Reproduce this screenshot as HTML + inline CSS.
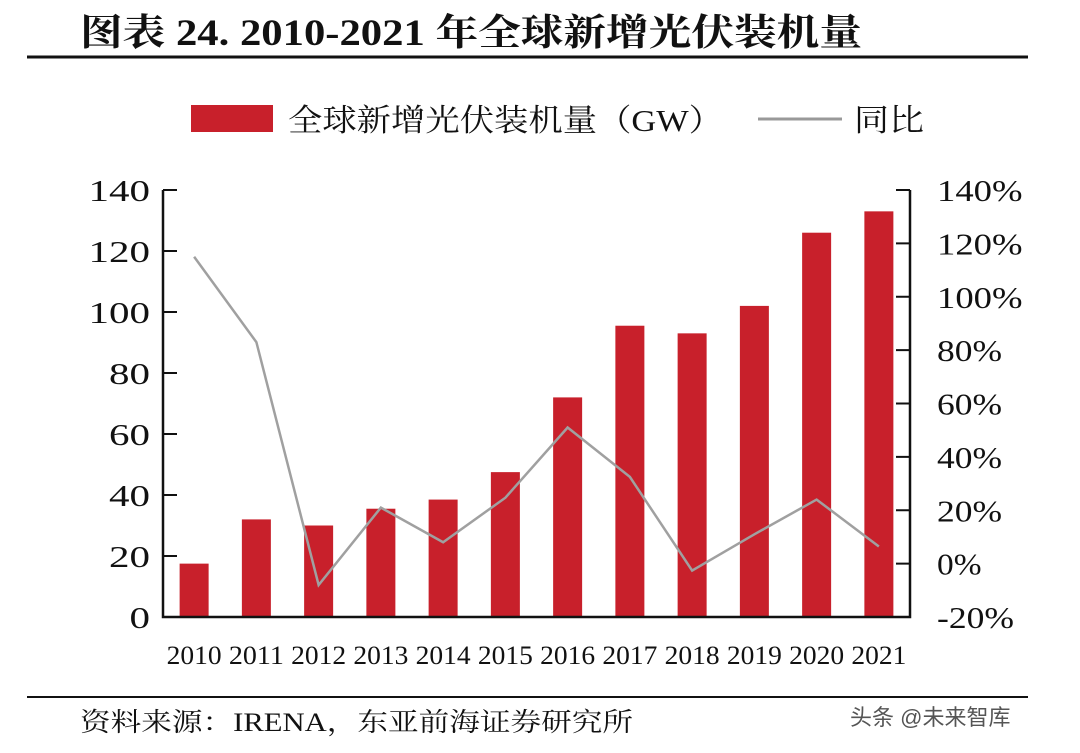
<!DOCTYPE html>
<html><head><meta charset="utf-8"><style>
body{margin:0;background:#fff;}
svg text{font-family:"Liberation Serif","Noto Serif CJK SC",serif;fill:#111;}
</style></head><body>
<svg id="c" width="1080" height="748" xmlns="http://www.w3.org/2000/svg">
<text x="80" y="45" font-size="37" font-weight="bold" textLength="782" lengthAdjust="spacingAndGlyphs">图表 24. 2010-2021 年全球新增光伏装机量</text>
<line x1="27" y1="57" x2="1028" y2="57" stroke="#111" stroke-width="3"/>
<g>
<rect x="191" y="105" width="82" height="27" fill="#c8202b"/>
<text x="288" y="131" font-size="31" textLength="435" lengthAdjust="spacingAndGlyphs">全球新增光伏装机量（GW）</text>
<line x1="758" y1="119" x2="842" y2="119" stroke="#999" stroke-width="3"/>
<text x="854" y="131" font-size="31" textLength="70" lengthAdjust="spacingAndGlyphs">同比</text>
</g>
<g id="plot"></g>
<line x1="27" y1="697" x2="1028" y2="697" stroke="#111" stroke-width="2"/>
<text x="80" y="731" font-size="26" textLength="553" lengthAdjust="spacingAndGlyphs">资料来源：IRENA，东亚前海证券研究所</text>
<text x="850" y="725" font-size="22" style="fill:#555;font-family:'Liberation Sans','Noto Sans CJK SC',sans-serif">头条 @未来智库</text>
</svg>
<script>
const categories=["2010","2011","2012","2013","2014","2015","2016","2017","2018","2019","2020","2021"];
const capacity=[17.5,32,30,35.5,38.5,47.5,72,95.5,93,102,126,133];
const yoy=[115,83,-8,21,8,24.7,51,32.5,-2.6,11,24,6.4];
const leftTicks=[0,20,40,60,80,100,120,140];
const rightTicks=[-20,0,20,40,60,80,100,120,140];
const ns="http://www.w3.org/2000/svg";
const g=document.getElementById('plot');
const X0=163,X1=910,Y0=617,Y1=190;
const band=(X1-X0)/categories.length;
const yL=v=>Y0-(v/140)*(Y0-Y1);
const yR=v=>Y0-((v+20)/160)*(Y0-Y1);
const xC=i=>X0+band*(i+0.5);
function mk(t,a){const e=document.createElementNS(ns,t);for(const k in a)e.setAttribute(k,a[k]);g.appendChild(e);return e;}
capacity.forEach((v,i)=>{
 const r=mk('rect',{x:xC(i)-14.5,y:yL(v),width:29,height:Y0-yL(v),fill:'#c8202b'});
 
 
});
const pts=yoy.map((v,i)=>xC(i)+','+yR(v)).join(' ');
const pl=mk('polyline',{points:pts,fill:'none',stroke:'#a0a0a0','stroke-width':2.5});


const ax=mk('path',{d:`M${X0},${Y1}V${Y0}H${X1}V${Y1}`,fill:'none',stroke:'#111','stroke-width':2.5});


leftTicks.forEach(v=>{
 const l=mk('line',{x1:X0,x2:X0+14,y1:yL(v),y2:yL(v),stroke:'#111','stroke-width':2});
 
 
 const s=String(v);
 const t=mk('text',{x:150-s.length*20.5,y:yL(v)+11,'font-size':31,textLength:s.length*20.5,lengthAdjust:'spacingAndGlyphs'});
 t.textContent=s;
 
 
});
rightTicks.forEach(v=>{
 const l=mk('line',{x1:X1-14,x2:X1,y1:yR(v),y2:yR(v),stroke:'#111','stroke-width':2});
 
 
 const s=v+'%';
 const w=String(Math.abs(v)).length*20.5+(v<0?12:0)+24;
 const t=mk('text',{x:937,y:yR(v)+11,'font-size':31,textLength:w,lengthAdjust:'spacingAndGlyphs'});
 t.textContent=s;
 
 
});
categories.forEach((c,i)=>{
 const t=mk('text',{x:xC(i)-27.5,y:664,'font-size':26,textLength:55,lengthAdjust:'spacingAndGlyphs'});
 t.textContent=c;
 
 
});
</script>
</body></html>
